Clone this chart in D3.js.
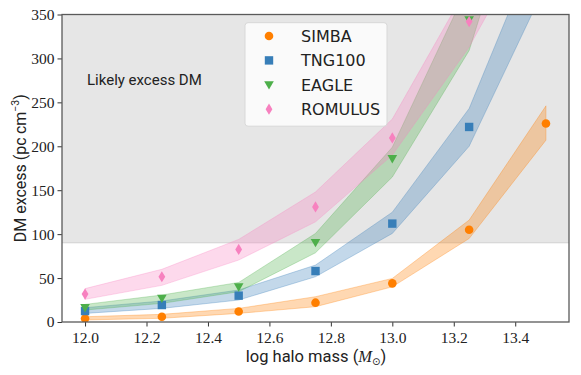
<!DOCTYPE html>
<html><head><meta charset="utf-8">
<script src="https://cdn.jsdelivr.net/npm/d3@7"></script>
<style>body{margin:0;background:#fff}</style>
</head><body>
<svg id="c" width="581" height="375"></svg>
<script>
const masses = [12.0, 12.25, 12.5, 12.75, 13.0, 13.25, 13.5];
const simbaMid  = [4, 6, 12, 22, 44, 105, 226];
const simbaLow  = [2.3, 4.2, 9.8, 17.4, 40, 95, 207];
const simbaHigh = [6, 8.7, 15.5, 28.8, 49.6, 116, 246];
const tngMid  = [12.5, 19.3, 30, 58, 112, 222, 420];
const tngLow  = [9.8, 15.5, 25, 51.5, 100.8, 200, 384];
const tngHigh = [16.3, 23.9, 36.4, 64.8, 125, 243, 455];
const eagleMid  = [16.3, 27, 40, 90.5, 186, 344, 650];
const eagleLow  = [13.6, 21.2, 34.5, 78.8, 165, 309, 589];
const eagleHigh = [20, 30.7, 45, 100.8, 199, 385, 720];
const romMid  = [31.8, 51.5, 82.6, 131, 209.5, 342, 560];
const romLow  = [25.8, 41.7, 70.5, 114, 190, 313, 471];
const romHigh = [38, 60, 94, 148, 231, 385, 640];
const seriesNames = ["SIMBA", "TNG100", "EAGLE", "ROMULUS"];
const xTicks = [12.0, 12.2, 12.4, 12.6, 12.8, 13.0, 13.2, 13.4];
const yTicks = [0, 50, 100, 150, 200, 250, 300, 350];
const excessThreshold = 90;

const colors = ["#ff7f00", "#377eb8", "#4daf4a", "#f781bf"];
const shapes = ["circle", "square", "tri", "diamond"];
const series = [
  {mid: simbaMid, low: simbaLow, high: simbaHigh},
  {mid: tngMid, low: tngLow, high: tngHigh},
  {mid: eagleMid, low: eagleLow, high: eagleHigh},
  {mid: romMid, low: romLow, high: romHigh}
];

const L = 62, R = 569, T = 14.5, B = 322;
const x = d3.scaleLinear().domain([11.925, 13.575]).range([L, R]);
const y = d3.scaleLinear().domain([0, 350]).range([B, T]);
const svg = d3.select("#c");

svg.append("defs").append("clipPath").attr("id","clip")
  .append("rect").attr("x",L).attr("y",T).attr("width",R-L).attr("height",B-T);

const plot = svg.append("g").attr("clip-path","url(#clip)");

// grey span
plot.append("rect").attr("x",L).attr("width",R-L)
  .attr("y",y(350)).attr("height",y(excessThreshold)-y(350))
  .attr("fill","rgba(128,128,128,0.2)");
plot.append("line").attr("x1",L).attr("x2",R).attr("y1",y(excessThreshold)).attr("y2",y(excessThreshold))
  .attr("stroke","rgba(128,128,128,0.2)").attr("stroke-width",1.2);

// bands
const area = d3.area().x((d,i)=>x(masses[i])).y0(d=>y(d[0])).y1(d=>y(d[1]));
series.forEach((s,k)=>{
  const pts = masses.map((m,i)=>[s.low[i], s.high[i]]);
  plot.append("path").attr("d", area(pts))
    .attr("fill", colors[k]).attr("fill-opacity",0.3)
    .attr("stroke", colors[k]).attr("stroke-opacity",0.3).attr("stroke-width",1);
});

function marker(g, shape, cx, cy, color){
  if(shape==="circle") g.append("circle").attr("cx",cx).attr("cy",cy).attr("r",4.3).attr("fill",color);
  else if(shape==="square") g.append("rect").attr("x",cx-4.2).attr("y",cy-4.2).attr("width",8.4).attr("height",8.4).attr("fill",color);
  else if(shape==="tri") g.append("path").attr("d",`M${cx-4.8},${cy-3.6}L${cx+4.8},${cy-3.6}L${cx},${cy+4.8}Z`).attr("fill",color);
  else g.append("path").attr("d",`M${cx},${cy-5.6}L${cx+3.4},${cy}L${cx},${cy+5.6}L${cx-3.4},${cy}Z`).attr("fill",color);
}

series.forEach((s,k)=>{
  masses.forEach((m,i)=> marker(plot, shapes[k], x(m), y(s.mid[i]), colors[k]));
});

// axes
const fontSerif = "'Liberation Serif', 'DejaVu Serif', serif";
const xa = svg.append("g").attr("transform",`translate(0,${B})`)
  .call(d3.axisBottom(x).tickValues(xTicks).tickFormat(d3.format(".1f")).tickSize(4.5).tickPadding(3));
const ya = svg.append("g").attr("transform",`translate(${L},0)`)
  .call(d3.axisLeft(y).tickValues(yTicks).tickSize(4.5).tickPadding(3));
[xa, ya].forEach(a=>{
  a.select(".domain").remove();
  a.selectAll(".tick line").attr("stroke","#333").attr("stroke-width",1);
  a.selectAll(".tick text").attr("font-family",fontSerif).attr("font-size",15.5).attr("fill","#222");
});
xa.selectAll(".tick text").attr("dy","0.9em");

svg.append("rect").attr("x",L).attr("y",T).attr("width",R-L).attr("height",B-T)
  .attr("fill","none").attr("stroke","#5a5a5a").attr("stroke-width",1.3);

// labels
const sans = "Roboto, 'DejaVu Sans', sans-serif";
const xl = svg.append("text").attr("x",(L+R)/2 + 0.5).attr("y",361.5).attr("text-anchor","middle")
  .attr("font-family",sans).attr("font-size",16.5).attr("fill","#222");
xl.append("tspan").text("log halo mass (");
xl.append("tspan").attr("font-family",fontSerif).attr("font-style","italic").text("M");
xl.append("tspan").attr("font-family","'DejaVu Sans'").attr("font-size",10).attr("dy",3).text("\u2299");
xl.append("tspan").attr("dy",-3).text(")");

const yl = svg.append("text").attr("transform",`translate(26,${(T+B)/2}) rotate(-90)`).attr("text-anchor","middle")
  .attr("font-family",sans).attr("font-size",16).attr("fill","#222");
yl.append("tspan").text("DM excess (pc\u2009cm");
yl.append("tspan").attr("font-size",10.5).attr("dy",-7).text("\u22123");
yl.append("tspan").attr("dy",7).text(")");

svg.append("text").attr("x",87).attr("y",85).attr("font-family",sans).attr("font-size",15)
  .attr("fill","#222").text("Likely excess DM");

// legend
const lg = svg.append("g");
lg.append("rect").attr("x",245).attr("y",22.7).attr("width",142).attr("height",103.5).attr("rx",3)
  .attr("fill","rgba(255,255,255,0.8)").attr("stroke","#d8d8d8").attr("stroke-width",1);
seriesNames.forEach((n,k)=>{
  const cy = 36 + k*24.4;
  marker(lg, shapes[k], 269, cy, colors[k]);
  lg.append("text").attr("x",301).attr("y",cy+5.8).attr("font-family","'DejaVu Sans', sans-serif")
    .attr("font-size",16).attr("fill","#222").text(n);
});
</script>
</body></html>
